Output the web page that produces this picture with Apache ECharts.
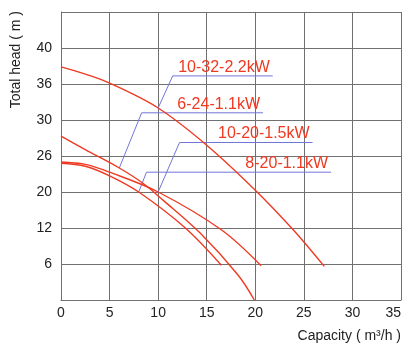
<!DOCTYPE html>
<html><head><meta charset="utf-8">
<script src="https://cdn.jsdelivr.net/npm/echarts@6/dist/echarts.min.js"></script>
<style>html,body{margin:0;padding:0;background:#fff}#chart{width:417px;height:357px}</style>
</head><body><div id="chart"></div>
<script>
// Printed head tick values (evenly spaced gridlines, uneven labels)
const headTicks = [0, 6, 12, 20, 26, 30, 36, 40, 44];
const headTickLabels = ['', '6', '12', '20', '26', '30', '36', '40', ''];
const flowMin = 0, flowMax = 35, flowStep = 5;

const pumpNames = ['10-32-2.2kW', '6-24-1.1kW', '10-20-1.5kW', '8-20-1.1kW'];

// Q (m3/h) / H (m) curves
const flow_10_32 = [0, 2.5, 5, 10, 15, 20, 23.9, 27.1];
const head_10_32 = [37.9, 37.1, 36.1, 32.0, 27.2, 20.3, 11.7, 5.6];

const flow_6_24 = [0, 2.5, 6, 8.4, 10.5, 14.3, 18.2, 19.9];
const head_6_24 = [28.2, 26.7, 24.0, 21.5, 18.2, 11.2, 4.2, 0];

const flow_10_20 = [0, 2.5, 5, 10, 16.5, 20.6];
const head_10_20 = [25.0, 24.6, 23.3, 20.0, 11.7, 5.7];

const flow_8_20 = [0, 2.5, 5, 8, 12.8, 16.5];
const head_8_20 = [24.8, 24.3, 22.7, 20.0, 12.0, 5.8];

// Rated points the callouts point to, and callout line anchors
const ratedFlow = [10, 6, 10, 8];
const ratedHead = [32, 24, 20, 20];
const calloutElbowFlow = [11.5, 8.3, 12.2, 8.8];
const calloutEndFlow = [21.8, 20.8, 25.9, 27.8];
const calloutHead = [36.9, 31.2, 27.5, 23.3];

// map a head value onto the evenly spaced gridline index
function headToAxis(h) {
  for (let i = 0; i < headTicks.length - 1; i++) {
    if (h <= headTicks[i + 1]) {
      return i + (h - headTicks[i]) / (headTicks[i + 1] - headTicks[i]);
    }
  }
  return headTicks.length - 1;
}

const curves = [
  [flow_10_32, head_10_32],
  [flow_6_24, head_6_24],
  [flow_10_20, head_10_20],
  [flow_8_20, head_8_20]
];

const FONT = 'Liberation Sans, Arial, Helvetica, sans-serif';
const RED = '#ee3a22';
const BLUE = '#7276d8';
const GRIDC = '#707070';

const series = [];
curves.forEach((c, k) => {
  series.push({
    type: 'line',
    name: pumpNames[k],
    data: c[0].map((q, i) => [q, headToAxis(c[1][i])]),
    smooth: 0.35,
    showSymbol: false,
    symbol: 'none',
    silent: true,
    lineStyle: { color: RED, width: 1.4 },
    z: 3
  });
});
pumpNames.forEach((nm, k) => {
  const y = headToAxis(calloutHead[k]);
  series.push({
    type: 'line',
    name: nm + ' callout',
    data: [
      { value: [ratedFlow[k], headToAxis(ratedHead[k])] },
      { value: [calloutElbowFlow[k], y] },
      { value: [calloutEndFlow[k], y],
        label: { show: true, formatter: nm, position: 'top', align: 'right',
                 distance: 0, offset: [-3, 0], color: RED, fontSize: 16,
                 fontFamily: FONT } }
    ],
    symbol: 'circle',
    symbolSize: 1,
    showSymbol: true,
    silent: true,
    itemStyle: { color: 'rgba(0,0,0,0)' },
    lineStyle: { color: BLUE, width: 1 },
    label: { show: false },
    z: 2
  });
});

const chart = echarts.init(document.getElementById('chart'), null, { renderer: 'canvas' });
chart.setOption({
  animation: false,
  backgroundColor: '#fff',
  grid: { left: 61, right: 16, top: 12, bottom: 57, containLabel: false, outerBoundsMode: 'none' },
  xAxis: {
    type: 'value', min: flowMin, max: flowMax, interval: flowStep,
    name: 'Capacity ( m³/h )', nameLocation: 'end', nameGap: 0,
    nameTextStyle: { align: 'right', verticalAlign: 'top', padding: [29, 0, 0, 0],
                     fontSize: 14, color: '#222', fontFamily: FONT },
    axisLine: { show: true, lineStyle: { color: GRIDC, width: 1 } },
    axisTick: { show: false },
    axisLabel: { fontSize: 14, color: '#222', fontFamily: FONT, margin: 6, alignMaxLabel: 'right' },
    splitLine: { show: true, lineStyle: { color: GRIDC, width: 1 } }
  },
  yAxis: {
    type: 'value', min: 0, max: headTicks.length - 1, interval: 1,
    axisLine: { show: true, lineStyle: { color: GRIDC, width: 1 } },
    axisTick: { show: false },
    axisLabel: { fontSize: 14, color: '#222', fontFamily: FONT, margin: 9,
                 formatter: v => headTickLabels[Math.round(v)] || '' },
    splitLine: { show: true, lineStyle: { color: GRIDC, width: 1 } }
  },
  graphic: [{
    type: 'text', left: 9, top: 11, rotation: Math.PI / 2, silent: true,
    style: { text: 'Total head ( m )', fill: '#222',
             font: '14px ' + FONT }
  }],
  series: series
});
</script></body></html>
